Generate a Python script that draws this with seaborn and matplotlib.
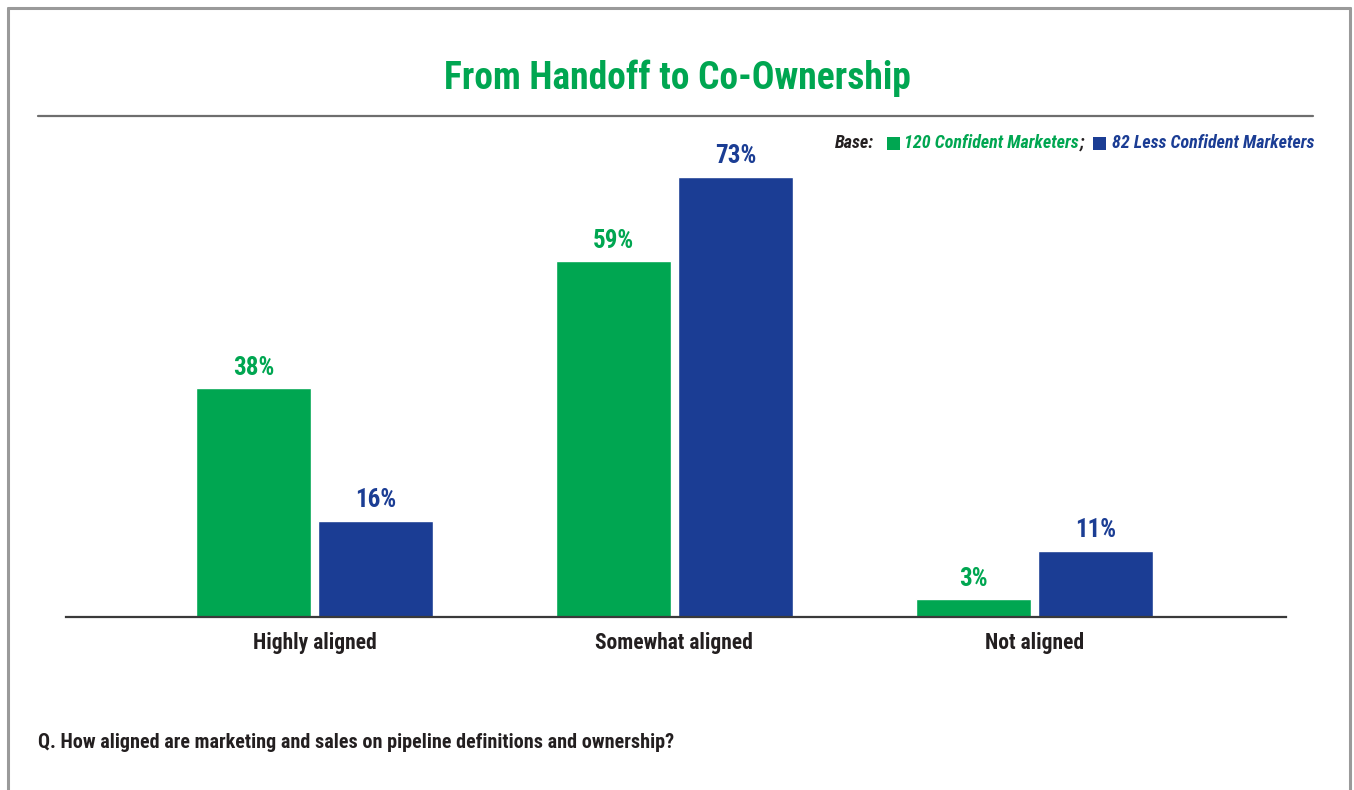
import matplotlib
matplotlib.use("Agg")
import matplotlib.pyplot as plt
from matplotlib import font_manager as fm
from matplotlib.patches import Rectangle
from matplotlib.lines import Line2D
import seaborn as sns
import pandas as pd

# ---- data ----
categories = ["Highly aligned", "Somewhat aligned", "Not aligned"]
groups = ["120 Confident Marketers", "82 Less Confident Marketers"]
confident = [38, 59, 3]
less_confident = [16, 73, 11]

title = "From Handoff to Co-Ownership"
base_label = "Base:"
footnote = "Q. How aligned are marketing and sales on pipeline definitions and ownership?"

GREEN = "#00A651"
BLUE = "#1B3D94"
DARK = "#231F20"

sns.set_theme(style="white")

# pick a narrow sans family when one is installed
installed = {f.name for f in fm.fontManager.ttflist}
stretch = "normal"
family = "DejaVu Sans"
for cand in ["Roboto Condensed", "Liberation Sans Narrow", "Open Sans Condensed",
             "Noto Sans Condensed"]:
    if cand in installed:
        family = cand
        break
else:
    if any(f.name == "DejaVu Sans" and f.stretch == "condensed" for f in fm.fontManager.ttflist):
        stretch = "condensed"
plt.rcParams["font.family"] = [family, "DejaVu Sans"]
plt.rcParams["font.stretch"] = stretch

W, H = 1354, 790
fig = plt.figure(figsize=(W / 100, H / 100), dpi=100)
fig.patch.set_facecolor("white")


def fx(px):
    return px / W


def fy(py):
    return 1 - py / H


# frame around the panel (open at the bottom)
border = "#9A9A9A"
fig.add_artist(Line2D([fx(7.5), fx(7.5)], [fy(7.5), fy(790)], color=border, lw=2.2, transform=fig.transFigure))
fig.add_artist(Line2D([fx(7.5), fx(1350)], [fy(7.5), fy(7.5)], color=border, lw=2.2, transform=fig.transFigure))
fig.add_artist(Line2D([fx(1350), fx(1350)], [fy(7.5), fy(790)], color=border, lw=2.2, transform=fig.transFigure))

# title and rule under it
fig.text(0.5, fy(78), title, ha="center", va="center", color=GREEN,
         fontsize=27, fontweight="bold")
fig.add_artist(Line2D([fx(38), fx(1313)], [fy(116), fy(116)], color="#6E6E6E", lw=1.6,
                      transform=fig.transFigure))

# ---- bars ----
df = pd.DataFrame({
    "Alignment": categories * 2,
    "Group": [groups[0]] * 3 + [groups[1]] * 3,
    "Share": confident + less_confident,
})

ax_bottom = 617
ax_top = 617 - 80 * 6.03
ax = fig.add_axes([fx(66), fy(ax_bottom), fx(1286) - fx(66), (ax_bottom - ax_top) / H])
sns.barplot(data=df, x="Alignment", y="Share", hue="Group", order=categories,
            hue_order=groups, palette=[GREEN, BLUE], width=0.678, gap=0.059,
            saturation=1, legend=False, ax=ax)
ax.set_ylim(0, 80)
ax.set_xlim(-0.69, 2.699)
ax.set_xlabel("")
ax.set_ylabel("")
ax.set_yticks([])
for s in ["top", "right", "left"]:
    ax.spines[s].set_visible(False)
ax.spines["bottom"].set_color("#3A3A3A")
ax.spines["bottom"].set_linewidth(1.6)
ax.tick_params(axis="x", length=0, pad=11)
for lbl in ax.get_xticklabels():
    lbl.set_fontweight("bold")
    lbl.set_fontsize(15.5)
    lbl.set_color(DARK)

for cont, col in zip(ax.containers, [GREEN, BLUE]):
    ax.bar_label(cont, labels=[f"{v:.0f}%" for v in cont.datavalues], padding=6,
                 color=col, fontsize=18, fontweight="bold")

# ---- base / legend line, laid out right to left ----
fig.canvas.draw()
renderer = fig.canvas.get_renderer()
y_leg = fy(143)
x_right = 1314
pieces = [
    ("text", groups[1], BLUE),
    ("gap", 6, None),
    ("box", BLUE, None),
    ("gap", 8, None),
    ("text", ";", DARK),
    ("gap", 1, None),
    ("text", groups[0], GREEN),
    ("gap", 5, None),
    ("box", GREEN, None),
    ("gap", 12, None),
    ("text", base_label, DARK),
]
cur = x_right
for kind, val, col in pieces:
    if kind == "text":
        t = fig.text(fx(cur), y_leg, val, ha="right", va="center", color=col,
                     fontsize=13, fontweight="bold", fontstyle="italic")
        bb = t.get_window_extent(renderer)
        cur -= bb.width
    elif kind == "gap":
        cur -= val
    else:
        size = 13
        fig.add_artist(Rectangle((fx(cur - size), fy(149.5)), fx(size), size / H,
                                 facecolor=val, edgecolor="none", transform=fig.transFigure))
        cur -= size

# question footnote
fig.text(fx(38), fy(743), footnote, ha="left", va="center", color=DARK,
         fontsize=14.5, fontweight="bold")

fig.savefig("out.png", dpi=100, facecolor="white")
